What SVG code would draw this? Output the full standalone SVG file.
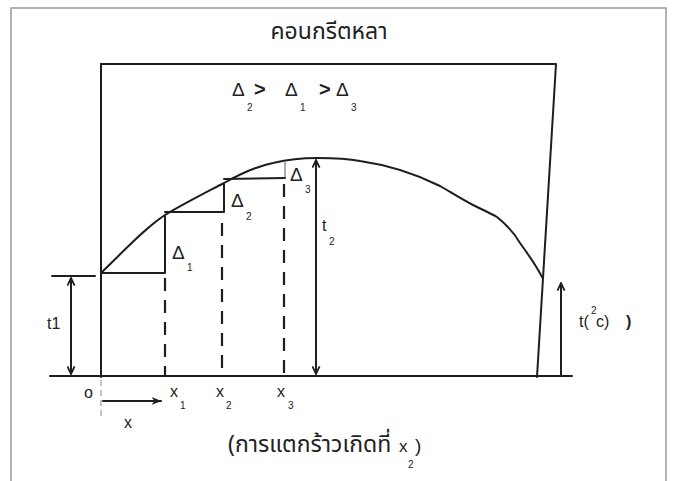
<svg xmlns="http://www.w3.org/2000/svg" width="674" height="481" viewBox="0 0 674 481">
<style>
.ln{fill:none;stroke:#1e1e1e;stroke-width:2;stroke-linecap:round;stroke-linejoin:round}
.dash{fill:none;stroke:#1e1e1e;stroke-width:2.2;stroke-dasharray:13 9}
.frame{fill:none;stroke:#9a9a9a;stroke-width:1.5}
.t{font-family:"Liberation Sans","DejaVu Sans",sans-serif;fill:#222}
.th{font-family:"Noto Sans","Noto Sans Thai","Loma","Garuda",sans-serif;fill:#222}
.d{font-size:19px}
.s{font-size:10px}
.l{font-size:16px}
</style>
<defs>
<marker id="ah" viewBox="0 0 10 10" refX="9.5" refY="5" markerWidth="9" markerHeight="9" markerUnits="userSpaceOnUse" orient="auto-start-reverse">
<path d="M1,1 L9.5,5 L1,9" fill="none" stroke="#1e1e1e" stroke-width="2"/>
</marker>
<marker id="ahf" viewBox="0 0 10 10" refX="9.5" refY="5" markerWidth="10" markerHeight="10" markerUnits="userSpaceOnUse" orient="auto">
<path d="M0,1 L10,5 L0,9 L3,5 z" fill="#1e1e1e"/>
</marker>
</defs>
<rect width="674" height="481" fill="#fff"/>
<rect class="frame" x="11" y="8" width="655" height="490"/>

<g id="title"><text class="th" x="329" y="39" font-size="23" text-anchor="middle">คอนกรีตหลา</text></g>

<g id="inequality">
<text class="t d" x="232" y="96">Δ</text><text class="t s" x="247" y="111">2</text>
<text class="t" x="254" y="96" font-size="20" font-weight="bold">&gt;</text>
<text class="t d" x="285" y="96">Δ</text><text class="t s" x="300" y="111">1</text>
<text class="t" x="319" y="96" font-size="20" font-weight="bold">&gt;</text>
<text class="t d" x="336" y="96">Δ</text><text class="t s" x="351" y="111">3</text>
</g>

<g id="concrete-box">
<path class="ln" d="M101,64 L556,64 L537,377"/>
<path class="ln" d="M101,64 L101,377"/>
<path d="M101,380 L101,418" fill="none" stroke="#999" stroke-width="1.2" stroke-dasharray="6 4"/>
</g>

<g id="baseline"><path class="ln" d="M50,376 L572,376"/></g>

<g id="curve">
<path class="ln" stroke-width="2.6" d="M101,273 C125,250 145,228 165,215 C185,203 205,193 224,183 C240,174 258,166 273,163 C290,159 305,158 317,158 C335,158 350,159 360,161 C395,166 420,176 440,186 C452,193 463,200 473,205 C483,210 490,213 497,217 C508,226 515,234 520,243 C528,254 536,265 542,277"/>
</g>

<g id="steps">
<path class="ln" d="M101,273 L165,273 L165,216"/>
<path class="ln" d="M165,212 L224,212 L224,184"/>
<path class="ln" d="M224,179 L285,178"/>
<path d="M285,178 L285,162" stroke="#555" stroke-width="1" fill="none"/>
</g>

<g id="dashes">
<path class="dash" d="M165,278 L165,376"/>
<path class="dash" d="M222,223 L222,376"/>
<path class="dash" d="M284,184 L284,376"/>
</g>

<g id="connectors">
<path class="ln" d="M52,276 L95,276"/>
<path class="ln" d="M71,278 L71,374" marker-start="url(#ah)" marker-end="url(#ah)"/>
<path class="ln" d="M316,160 L316,374" marker-start="url(#ah)" marker-end="url(#ah)"/>
<path class="ln" d="M561,376 L561,283" marker-end="url(#ah)"/>
<path class="ln" d="M103,401 L161,401" marker-end="url(#ahf)"/>
</g>

<g id="labels">
<text class="t d" x="172" y="259">Δ</text><text class="t s" x="187" y="271">1</text>
<text class="t d" x="231" y="207">Δ</text><text class="t s" x="246" y="220">2</text>
<text class="t d" x="290" y="181">Δ</text><text class="t s" x="305" y="193">3</text>
<text class="t l" x="322" y="231">t</text><text class="t s" x="329" y="245">2</text>
<text class="t l" x="47" y="329">t1</text>
<text class="t l" x="84" y="398">o</text>
<text class="t l" x="170" y="397">x</text><text class="t s" x="180" y="409">1</text>
<text class="t l" x="216" y="397">x</text><text class="t s" x="226" y="409">2</text>
<text class="t l" x="277" y="397">x</text><text class="t s" x="288" y="409">3</text>
<text class="t l" x="124" y="428">x</text>
<text class="t l" x="579" y="327">t(</text><text class="t s" x="591" y="314">2</text><text class="t l" x="596" y="327">c)</text><text class="t l" x="626" y="327" font-weight="bold">)</text>
</g>

<g id="caption">
<text class="th" x="228" y="452" font-size="23">(การแตกร้าวเกิดที่</text>
<text class="t" x="399" y="452" font-size="17">x</text><text class="t s" x="408" y="468">2</text><text class="t" x="415" y="452" font-size="19">)</text>
</g>
</svg>
